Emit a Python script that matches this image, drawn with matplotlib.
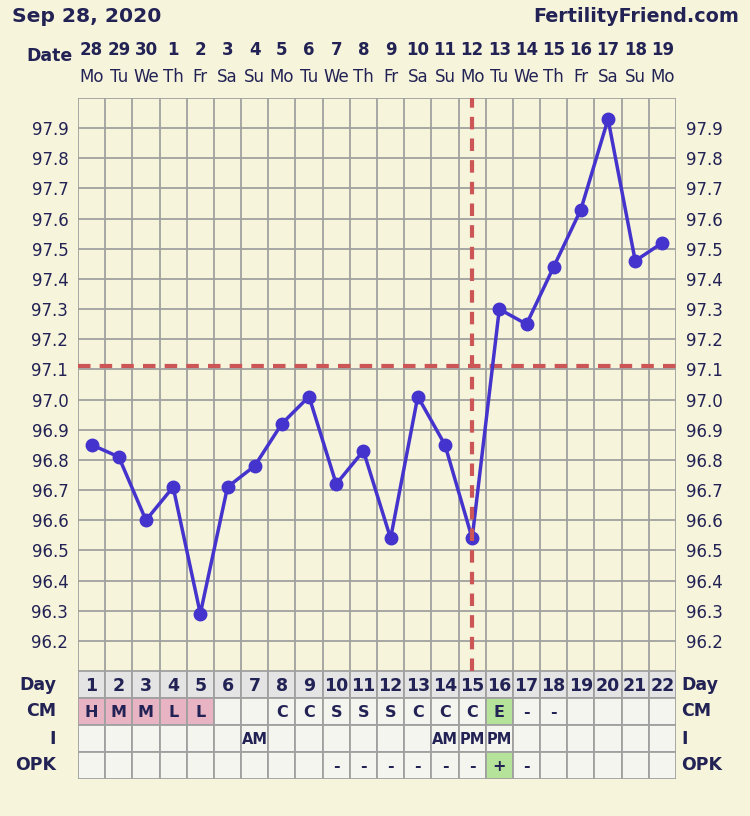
import matplotlib.pyplot as plt
import numpy as np
from matplotlib.patches import Rectangle

# chart data
days = list(range(1, 23))
dates = [28, 29, 30, 1, 2, 3, 4, 5, 6, 7, 8, 9, 10, 11, 12, 13, 14, 15, 16, 17, 18, 19]
dows = ['Mo', 'Tu', 'We', 'Th', 'Fr', 'Sa', 'Su', 'Mo', 'Tu', 'We', 'Th',
        'Fr', 'Sa', 'Su', 'Mo', 'Tu', 'We', 'Th', 'Fr', 'Sa', 'Su', 'Mo']
temps = [96.85, 96.81, 96.60, 96.71, 96.29, 96.71, 96.78, 96.92, 97.01, 96.72, 96.83,
         96.54, 97.01, 96.85, 96.54, 97.30, 97.25, 97.44, 97.63, 97.93, 97.46, 97.52]
coverline = 97.11
ovulation_day = 15
cm = ['H', 'M', 'M', 'L', 'L', '', '', 'C', 'C', 'S', 'S', 'S', 'C', 'C', 'C', 'E',
      '-', '-', '', '', '', '']
intercourse = ['', '', '', '', '', '', 'AM', '', '', '', '', '', '', 'AM', 'PM', 'PM',
               '', '', '', '', '', '']
opk = ['', '', '', '', '', '', '', '', '', '-', '-', '-', '-', '-', '-', '+', '-',
       '', '', '', '', '']
ytick_vals = [96.2, 96.3, 96.4, 96.5, 96.6, 96.7, 96.8, 96.9, 97.0, 97.1,
              97.2, 97.3, 97.4, 97.5, 97.6, 97.7, 97.8, 97.9]

bg = '#f7f4dc'
navy = '#222255'
gridc = '#a0a0a0'
line_c = '#4433cc'
red = '#cc5555'
pink = '#e8b4c4'
green = '#b5e39a'
cellc = '#f5f5ef'
dayc = '#e4e4e4'

W, H = 750, 816
fig = plt.figure(figsize=(W / 100, H / 100), dpi=100, facecolor=bg)


def fy(px):
    return 1 - px / H


def fx(px):
    return px / W


x0, x1 = 78, 676
ytop, ybot = 98, 671
ax = fig.add_axes([fx(x0), fy(ybot), fx(x1 - x0), (ybot - ytop) / H])
ax.set_facecolor(bg)
ax.set_xlim(0.5, 22.5)
ax.set_ylim(96.1, 98.0)

for d in np.arange(0.5, 23, 1):
    ax.axvline(d, color=gridc, lw=1.3, zorder=1)
for v in np.arange(96.1, 98.05, 0.1):
    ax.axhline(v, color=gridc, lw=1.3, zorder=1)

ax.axhline(coverline, color=red, lw=3, dashes=(3, 2.2), zorder=2)
ax.axvline(ovulation_day, color=red, lw=3, dashes=(3, 2.2), zorder=4)
ax.plot(days, temps, color=line_c, lw=2.5, marker='o', ms=9, zorder=3)

ax.set_xticks([])
ax.set_yticks(ytick_vals)
ax.set_yticklabels(['%.1f' % v for v in ytick_vals], fontsize=12, color=navy)
ax.tick_params(axis='y', length=0, pad=7, labelright=True, labelleft=True)
for s in ax.spines.values():
    s.set_visible(False)

# date header
tr = ax.get_xaxis_transform()
for d, dt, dw in zip(days, dates, dows):
    ax.text(d, (ybot - 50) / (ybot - ytop), str(dt), transform=tr, ha='center',
            va='center', fontsize=12, fontweight='bold', color=navy)
    ax.text(d, (ybot - 77) / (ybot - ytop), dw, transform=tr, ha='center',
            va='center', fontsize=12, color=navy)
fig.text(fx(73), fy(56), 'Date', ha='right', va='center', fontsize=12.5,
         fontweight='bold', color=navy)
fig.text(fx(12), fy(16), 'Sep 28, 2020', ha='left', va='center', fontsize=14.6,
         fontweight='bold', color=navy)
fig.text(fx(739), fy(16), 'FertilityFriend.com', ha='right', va='center',
         fontsize=13.8, fontweight='bold', color=navy)

# table below
tb_top, tb_bot = 671, 779
tax = fig.add_axes([fx(x0), fy(tb_bot), fx(x1 - x0), (tb_bot - tb_top) / H])
tax.set_xlim(0.5, 22.5)
tax.set_ylim(4, 0)
tax.axis('off')
rows = [[str(d) for d in days], cm, intercourse, opk]
row_names = ['Day', 'CM', 'I', 'OPK']
for r, vals in enumerate(rows):
    for i, v in enumerate(vals):
        fc = dayc if r == 0 else cellc
        if r == 1 and v in ('H', 'M', 'L'):
            fc = pink
        if (r == 1 and v == 'E') or (r == 3 and v == '+'):
            fc = green
        tax.add_patch(Rectangle((i + 0.5, r), 1, 1, facecolor=fc,
                                edgecolor=gridc, lw=1.3))
        if v:
            fs = 12.5 if r == 0 else 11.5
            if v in ('AM', 'PM'):
                fs = 10.5
            tax.text(i + 1, r + 0.55, v, ha='center', va='center', fontsize=fs,
                     fontweight='bold', color=navy)
    tax.text(-0.3, r + 0.5, row_names[r], ha='right', va='center', fontsize=12.5,
             fontweight='bold', color=navy, clip_on=False)
    tax.text(22.7, r + 0.5, row_names[r], ha='left', va='center', fontsize=12.5,
             fontweight='bold', color=navy, clip_on=False)

fig.savefig('out.png', dpi=100, facecolor=bg)
